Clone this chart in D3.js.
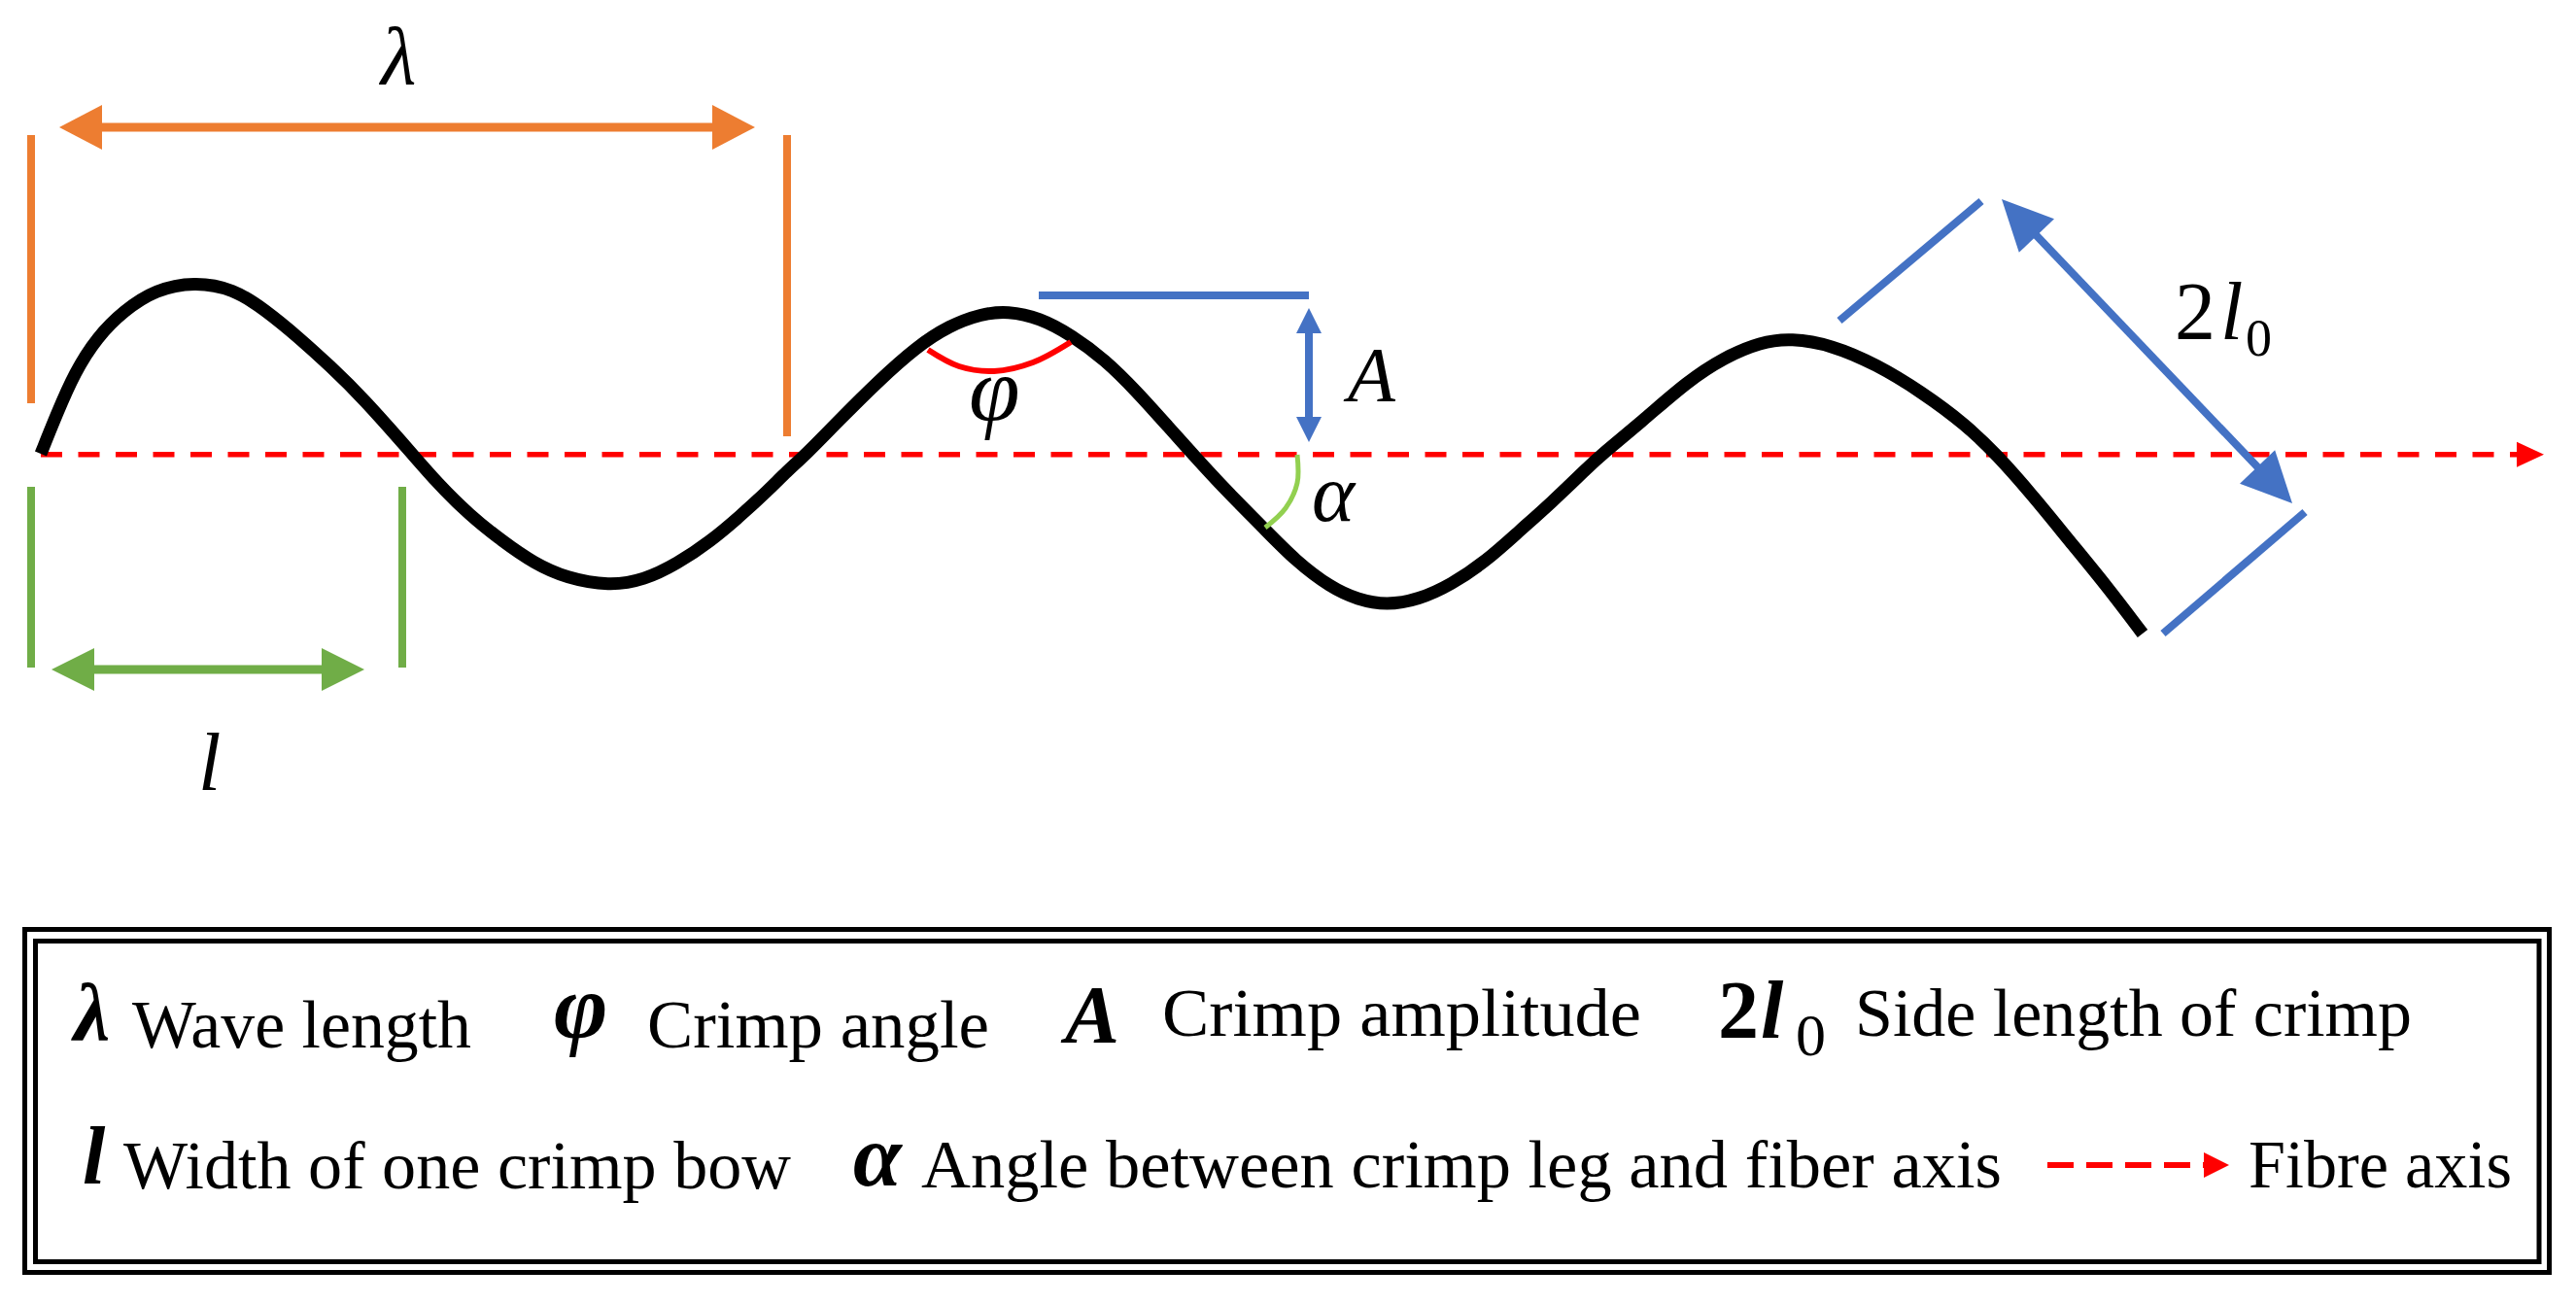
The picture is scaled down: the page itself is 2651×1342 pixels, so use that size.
<!DOCTYPE html>
<html>
<head>
<script src="https://d3js.org/d3.v7.min.js"></script>
<style>
  body { margin: 0; background: #fff; }
  text { font-family: "Liberation Serif", serif; fill: #000; }
</style>
</head>
<body>
<svg width="2651" height="1342"></svg>
<script>

// crimp curve (pixels of the reference)
const crimpX = [42, 58, 77, 100, 127, 160, 200, 240, 273, 307, 340, 373, 425, 450, 483, 517, 550, 583, 627, 663, 697, 730, 763, 790, 810, 830, 863, 903, 943, 977, 1010, 1037, 1070, 1103, 1137, 1170, 1203, 1228, 1260, 1300, 1333, 1370, 1397, 1427, 1460, 1493, 1530, 1563, 1597, 1633, 1648, 1694, 1736, 1774, 1812, 1843, 1885, 1931, 1977, 2023, 2055, 2092, 2130, 2168, 2205];
const crimpY = [467, 427, 383, 347, 320, 298, 290, 297, 319, 347, 377, 409, 468, 497, 530, 557, 580, 595, 603, 597, 580, 558, 530, 505, 485, 467, 433, 393, 357, 335, 323, 320, 327, 345, 370, 403, 440, 468, 503, 543, 577, 605, 617, 623, 617, 602, 577, 547, 517, 482, 468, 430, 393, 368, 352, 348, 355, 375, 403, 437, 468, 510, 557, 603, 652];

// axis and dimension lines: [x1, y1, x2, y2]
const axisLine = [42, 467.7, 2595, 467.7];
const orangeTicks = [[32, 139, 32, 415], [810, 139, 810, 449]];
const greenTicks = [[32, 501, 32, 687], [414, 501, 414, 687]];
const blueTicks = [[1069, 304, 1347, 304], [1893, 330, 2039, 207], [2226, 652, 2372, 527]];

// double headed arrows, tip to tip
const orangeArrow = [61, 131, 777, 131];
const greenArrow = [53, 689, 375, 689];
const ampArrow = [1347, 317, 1347, 455];
const sideArrow = [2060, 205, 2359, 518];

// angle arcs
const phiArc = [[955, 360], [987, 377], [1023, 382], [1063, 373], [1102, 352]];
const alphaArc = [[1335, 468], [1335, 497], [1323, 523], [1302, 543]];

// math labels on the drawing: text, x, baseline, size
const mathLabels = [["λ", 392, 86, 84], ["l", 204, 813, 84], ["φ", 997, 433, 95], ["A", 1387, 413, 80], ["α", 1350, 536, 84], ["2", 2238, 349, 84], ["l", 2285, 349, 84], ["0", 2311, 366, 54]];

// legend
const legendSymbols = [["λ", 76, 1070, 84], ["φ", 570, 1068, 95], ["A", 1096, 1073, 84], ["2", 1768, 1068, 84], ["l", 1812, 1068, 84], ["0", 1848, 1086, 62], ["l", 85, 1218, 84], ["α", 878, 1220, 90]];
const legendTerms = ["Wave length", "Crimp angle", "Crimp amplitude", "Side length of crimp", "Width of one crimp bow", "Angle between crimp leg and fiber axis", "Fibre axis"];
const legendTermX = [136, 666, 1196, 1909, 127, 948, 2314];
const legendTermY = [1078, 1078, 1066, 1066, 1223, 1222, 1222];
const legendTermW = [349, 352, 493, 573, 687, 1112, 271];
const legendArrow = [2107, 1199, 2268, 1199];
const boxes = [[25.5, 956.5, 2623.5, 1309.5], [36.5, 968.5, 2613, 1298.5]];

var svg = d3.select("svg"),
    width = +svg.attr("width"),
    height = +svg.attr("height");

var x = d3.scaleLinear().domain([0, 2651]).range([0, width]);
var y = d3.scaleLinear().domain([0, 1342]).range([0, height]);

const orange = "#ed7d31", green = "#70ad47", blue = "#4472c4", red = "#ff0000";

function segment(d, color, w) {
  svg.append("line")
    .attr("x1", x(d[0])).attr("y1", y(d[1]))
    .attr("x2", x(d[2])).attr("y2", y(d[3]))
    .attr("stroke", color).attr("stroke-width", w);
}

// arrow head with its point at (px, py), pointing away from (fx, fy)
function head(px, py, fx, fy, len, half, color) {
  var a = Math.atan2(py - fy, px - fx),
      bx = x(px) - len * Math.cos(a),
      by = y(py) - len * Math.sin(a),
      nx = -Math.sin(a) * half,
      ny = Math.cos(a) * half;
  svg.append("polygon")
    .attr("points", [[x(px), y(py)], [bx + nx, by + ny], [bx - nx, by - ny]].join(" "))
    .attr("fill", color);
}

function doubleArrow(d, color, w, len, half) {
  var a = Math.atan2(d[3] - d[1], d[2] - d[0]), inset = len * 0.6;
  // stop the shaft inside the heads so no blunt end shows past the tips
  segment([d[0] + inset * Math.cos(a), d[1] + inset * Math.sin(a), d[2] - inset * Math.cos(a), d[3] - inset * Math.sin(a)], color, w);
  head(d[0], d[1], d[2], d[3], len, half, color);
  head(d[2], d[3], d[0], d[1], len, half, color);
}

// fibre axis goes under the crimp
svg.append("line")
  .attr("x1", x(axisLine[0])).attr("y1", y(axisLine[1]))
  .attr("x2", x(axisLine[2])).attr("y2", y(axisLine[3]))
  .attr("stroke", red).attr("stroke-width", 5.5)
  .attr("stroke-dasharray", "22 16.5");
head(2618, 467.7, 2590, 467.7, 28, 13, red);

var crimpLine = d3.line()
  .x(function(d) { return x(d); })
  .y(function(d, i) { return y(crimpY[i]); })
  .curve(d3.curveBasis);

svg.append("path")
  .attr("d", crimpLine(crimpX))
  .attr("fill", "none")
  .attr("stroke", "#000")
  .attr("stroke-width", 13);

var arcLine = d3.line()
  .x(function(d) { return x(d[0]); })
  .y(function(d) { return y(d[1]); })
  .curve(d3.curveCatmullRom.alpha(0.5));

svg.append("path").attr("d", arcLine(phiArc)).attr("fill", "none").attr("stroke", red).attr("stroke-width", 6);
svg.append("path").attr("d", arcLine(alphaArc)).attr("fill", "none").attr("stroke", "#92d050").attr("stroke-width", 5);

orangeTicks.forEach(function(d) { segment(d, orange, 8); });
greenTicks.forEach(function(d) { segment(d, green, 8); });
blueTicks.forEach(function(d) { segment(d, blue, 8); });

doubleArrow(orangeArrow, orange, 9, 44, 23);
doubleArrow(greenArrow, green, 9, 44, 22);
doubleArrow(ampArrow, blue, 8, 26, 13);
doubleArrow(sideArrow, blue, 8, 52, 25);

svg.selectAll(".math")
  .data(mathLabels)
  .enter().append("text")
    .attr("class", "math")
    .attr("x", function(d) { return x(d[1]); })
    .attr("y", function(d) { return y(d[2]); })
    .attr("font-size", function(d) { return d[3]; })
    .attr("font-style", function(d) { return d[0] === "2" || d[0] === "0" ? "normal" : "italic"; })
    .text(function(d) { return d[0]; });

// legend box, double frame
svg.selectAll(".frame")
  .data(boxes)
  .enter().append("rect")
    .attr("class", "frame")
    .attr("x", function(d) { return x(d[0]); })
    .attr("y", function(d) { return y(d[1]); })
    .attr("width", function(d) { return x(d[2]) - x(d[0]); })
    .attr("height", function(d) { return y(d[3]) - y(d[1]); })
    .attr("fill", "none")
    .attr("stroke", "#000")
    .attr("stroke-width", 5);

svg.selectAll(".symbol")
  .data(legendSymbols)
  .enter().append("text")
    .attr("class", "symbol")
    .attr("x", function(d) { return x(d[1]); })
    .attr("y", function(d) { return y(d[2]); })
    .attr("font-size", function(d) { return d[3]; })
    .attr("font-weight", function(d) { return d[0] === "0" ? "normal" : "bold"; })
    .attr("font-style", function(d) { return d[0] === "2" || d[0] === "0" ? "normal" : "italic"; })
    .text(function(d) { return d[0]; });

svg.selectAll(".term")
  .data(legendTerms)
  .enter().append("text")
    .attr("class", "term")
    .attr("x", function(d, i) { return x(legendTermX[i]); })
    .attr("y", function(d, i) { return y(legendTermY[i]); })
    .attr("font-size", 70)
    .attr("textLength", function(d, i) { return legendTermW[i]; })
    .attr("lengthAdjust", "spacingAndGlyphs")
    .text(function(d) { return d; });

svg.append("line")
  .attr("x1", x(legendArrow[0])).attr("y1", y(legendArrow[1]))
  .attr("x2", x(legendArrow[2])).attr("y2", y(legendArrow[3]))
  .attr("stroke", red).attr("stroke-width", 6)
  .attr("stroke-dasharray", "27 13");
head(2294, 1199, 2268, 1199, 26, 13, red);

</script>
</body>
</html>
